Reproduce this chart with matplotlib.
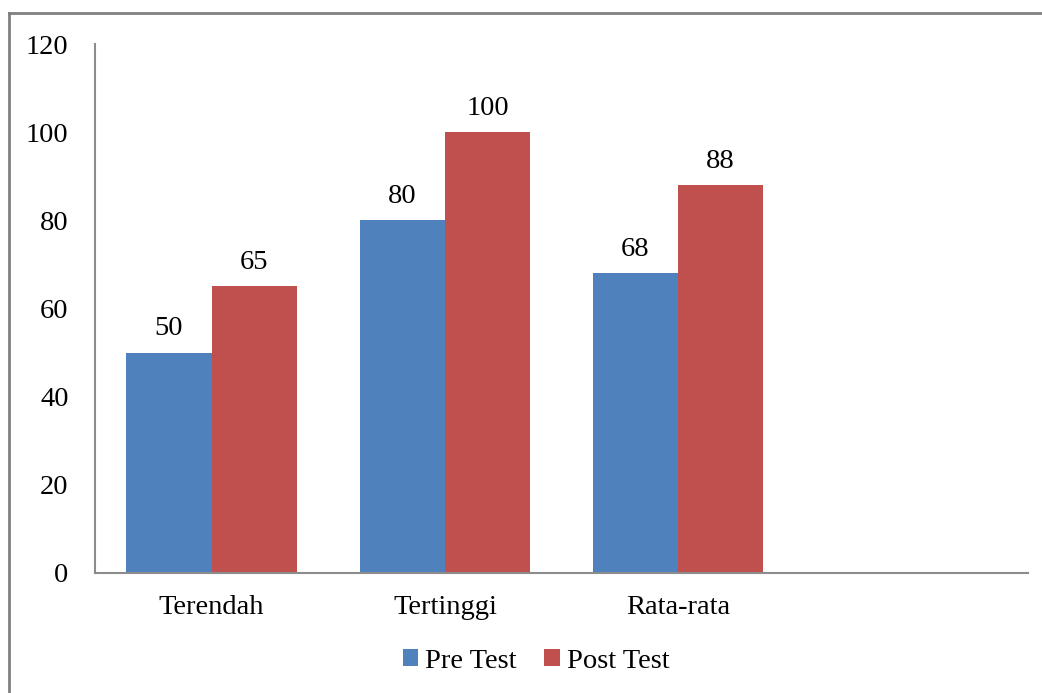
import matplotlib.pyplot as plt
import numpy as np
from matplotlib.lines import Line2D

categories = ["Terendah", "Tertinggi", "Rata-rata", ""]
pre_test = [50, 80, 68]
post_test = [65, 100, 88]
series_names = ["Pre Test", "Post Test"]

plt.rcParams['font.family'] = ['Liberation Serif', 'DejaVu Serif']
fs = 20.5

fig = plt.figure(figsize=(10.42, 6.93), dpi=100)
ax = fig.add_axes([95 / 1042, 1 - 573 / 693, (1028 - 95) / 1042, (573 - 44) / 693])

x = np.arange(len(pre_test))
w = 0.365
b1 = ax.bar(x - w / 2, pre_test, w, color='#4F81BD', label=series_names[0])
b2 = ax.bar(x + w / 2, post_test, w, color='#C0504D', label=series_names[1])

for bars in (b1, b2):
    ax.bar_label(bars, padding=8, fontsize=fs)

ax.set_xlim(-0.5, len(categories) - 0.5)
ax.set_ylim(0, 120)
ax.set_yticks(range(0, 121, 20))
ax.set_xticks(np.arange(len(categories)))
ax.set_xticklabels(categories)
ax.tick_params(axis='both', length=0, labelsize=fs)
ax.tick_params(axis='x', pad=16)
ax.tick_params(axis='y', pad=19)

for s in ('top', 'right'):
    ax.spines[s].set_visible(False)
for s in ('left', 'bottom'):
    ax.spines[s].set_color('#8C8C8C')
    ax.spines[s].set_linewidth(1.5)

ax.legend(loc='center', bbox_to_anchor=(536 / 1042, 1 - 661 / 693),
          bbox_transform=fig.transFigure, ncol=2, frameon=False,
          fontsize=fs, handlelength=0.55, handleheight=0.55,
          handletextpad=0.25, columnspacing=0.95)

# chart frame (left and top edges)
fig.add_artist(Line2D([8.5 / 1042, 8.5 / 1042], [0, 1 - 13 / 693],
                      transform=fig.transFigure, color='#808080', lw=2))
fig.add_artist(Line2D([8.5 / 1042, 1], [1 - 13 / 693, 1 - 13 / 693],
                      transform=fig.transFigure, color='#808080', lw=2))

fig.savefig("out.png", dpi=100)
